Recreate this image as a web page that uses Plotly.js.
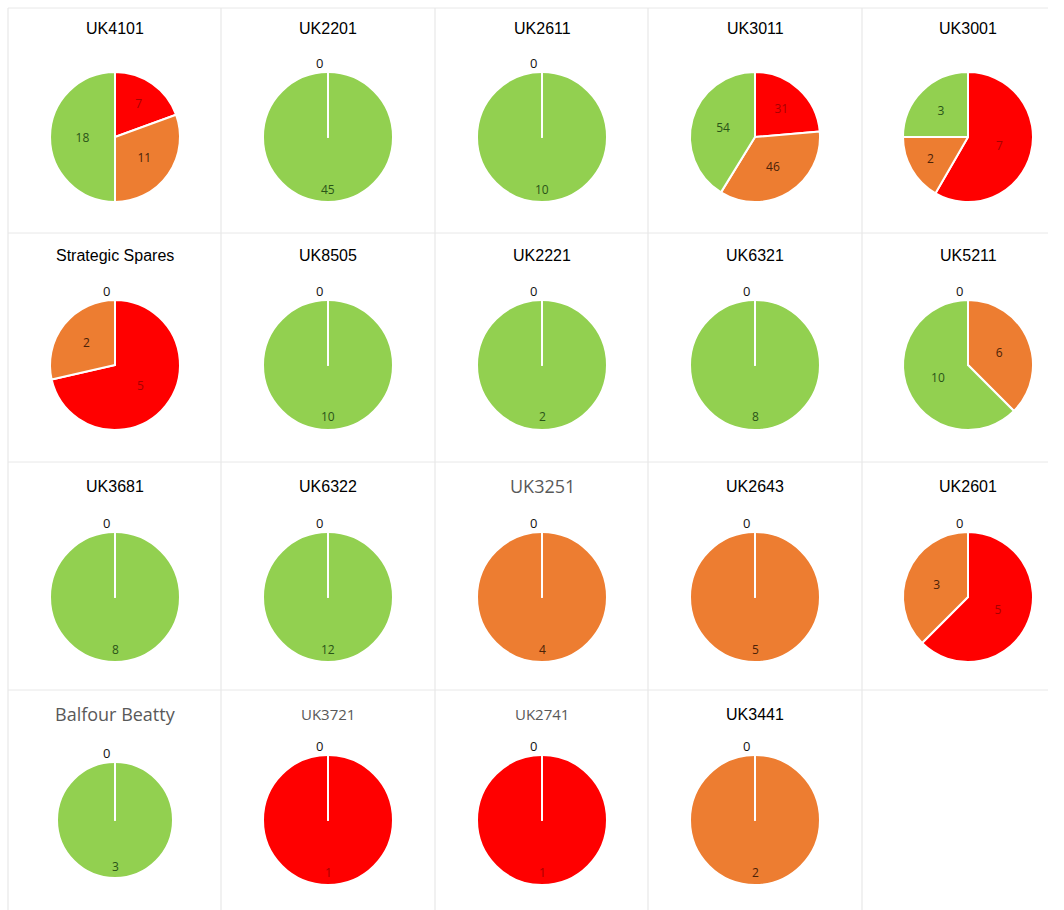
<!DOCTYPE html>
<html>
<head>
<meta charset="utf-8">
<script src="https://cdn.plot.ly/plotly-3.0.1.min.js"></script>
<style>html,body{margin:0;padding:0;background:#fff;}#chart{width:1064px;height:910px;}</style>
</head>
<body>
<div id="chart"></div>
<script>
// ---- data ----
const statuses = ["Red", "Amber", "Green"];
const siteNames = [
  "UK4101", "UK2201", "UK2611", "UK3011", "UK3001",
  "Strategic Spares", "UK8505", "UK2221", "UK6321", "UK5211",
  "UK3681", "UK6322", "UK3251", "UK2643", "UK2601",
  "Balfour Beatty", "UK3721", "UK2741", "UK3441"
];
const redValues    = [7, 0, 0, 31, 7,   5, 0, 0, 0, 0,   0, 0, 0, 0, 5,   0, 1, 1, 0];
const amberValues  = [11, 0, 0, 46, 2,  2, 0, 0, 0, 6,   0, 0, 4, 5, 3,   0, 0, 0, 2];
const greenValues  = [18, 45, 10, 54, 3, 0, 10, 2, 8, 10, 8, 12, 0, 0, 0,  3, 0, 0, 0];

// ---- styles / layout ----
const W = 1064, H = 910;
const sliceColors = {Red: "#FF0000", Amber: "#ED7D31", Green: "#92D050"};
const labelColors = {Red: "#A80000", Amber: "#4A2208", Green: "#2A5418"};
const colCenters = [115, 328, 542, 755, 968];
const rowCenters = [137, 365, 597, 820];
const titleRows = [28, 255, 486, 714];
const grayTitles = {"UK3251": "#595959", "Balfour Beatty": "#595959", "UK3721": "#595959", "UK2741": "#595959"};
const R = 65;
const labelFont = "Open Sans, sans-serif";

const traces = [];
const annotations = [];
siteNames.forEach((name, i) => {
  const col = i % 5, row = Math.floor(i / 5);
  const cx = colCenters[col], cy = rowCenters[row];
  const r = name === "Balfour Beatty" ? 58 : R;
  const raw = [redValues[i], amberValues[i], greenValues[i]];
  const nonZero = raw.filter(v => v !== 0).length;
  // zero slices sit at 12 o'clock either way; draw them last so their white edge shows
  let idx = [0, 1, 2];
  idx = idx.filter(k => raw[k] !== 0).concat(idx.filter(k => raw[k] === 0));
  let zeroShown = false;
  const tpos = idx.map(k => {
    if (raw[k] !== 0) return nonZero === 1 ? "none" : "inside";
    if (!zeroShown) { zeroShown = true; return "outside"; }
    return "none";
  });
  traces.push({
    type: "pie",
    name: name,
    labels: idx.map(k => statuses[k]),
    values: idx.map(k => raw[k]),
    sort: false,
    direction: "clockwise",
    rotation: 0,
    textinfo: "value",
    textposition: tpos,
    insidetextorientation: "horizontal",
    insidetextfont: {family: labelFont, size: 12, color: idx.map(k => labelColors[statuses[k]])},
    outsidetextfont: {family: labelFont, size: 13, color: "#111111"},
    marker: {colors: idx.map(k => sliceColors[statuses[k]]), line: {color: "#FFFFFF", width: 2}},
    domain: {x: [(cx - r) / W, (cx + r) / W], y: [1 - (cy + r) / H, 1 - (cy - r) / H]},
    showlegend: false,
    hoverinfo: "label+value"
  });
  // a whole-circle slice: its value label sits near the bottom edge, as in the source
  if (nonZero === 1) {
    const k = raw.findIndex(v => v !== 0);
    annotations.push({
      text: String(raw[k]), xref: "paper", yref: "paper",
      x: cx / W, y: 1 - (cy + 0.8 * r) / H, xanchor: "center", yanchor: "middle",
      showarrow: false,
      font: {family: labelFont, size: 12, color: labelColors[statuses[k]]}
    });
  }
  const gray = grayTitles[name];
  annotations.push({
    text: name, xref: "paper", yref: "paper",
    x: cx / W, y: 1 - titleRows[row] / H, xanchor: "center", yanchor: "middle",
    showarrow: false,
    font: gray ? {family: "Open Sans, sans-serif", size: (name === "UK3251" || name === "Balfour Beatty") ? 18 : 15, color: gray}
               : {family: "Liberation Sans, Arial, sans-serif", size: 16, color: "#000000"}
  });
});

// faint cell borders of the dashboard tiles
const shapes = [];
const vLines = [8, 221, 435, 648, 862];
const hLines = [8, 233, 462, 690];
vLines.forEach(x => shapes.push({type: "line", xref: "paper", yref: "paper", x0: x / W, x1: x / W, y0: 0, y1: 1 - 8 / H, line: {color: "#E3E3E3", width: 1}}));
hLines.forEach(y => shapes.push({type: "line", xref: "paper", yref: "paper", x0: 8 / W, x1: 1048 / W, y0: 1 - y / H, y1: 1 - y / H, line: {color: "#E8E8E8", width: 1}}));

const layout = {
  width: W, height: H,
  margin: {l: 0, r: 0, t: 0, b: 0},
  paper_bgcolor: "#FFFFFF",
  showlegend: false,
  annotations: annotations,
  shapes: shapes
};
Plotly.newPlot("chart", traces, layout, {displayModeBar: false, staticPlot: true});
</script>
</body>
</html>
